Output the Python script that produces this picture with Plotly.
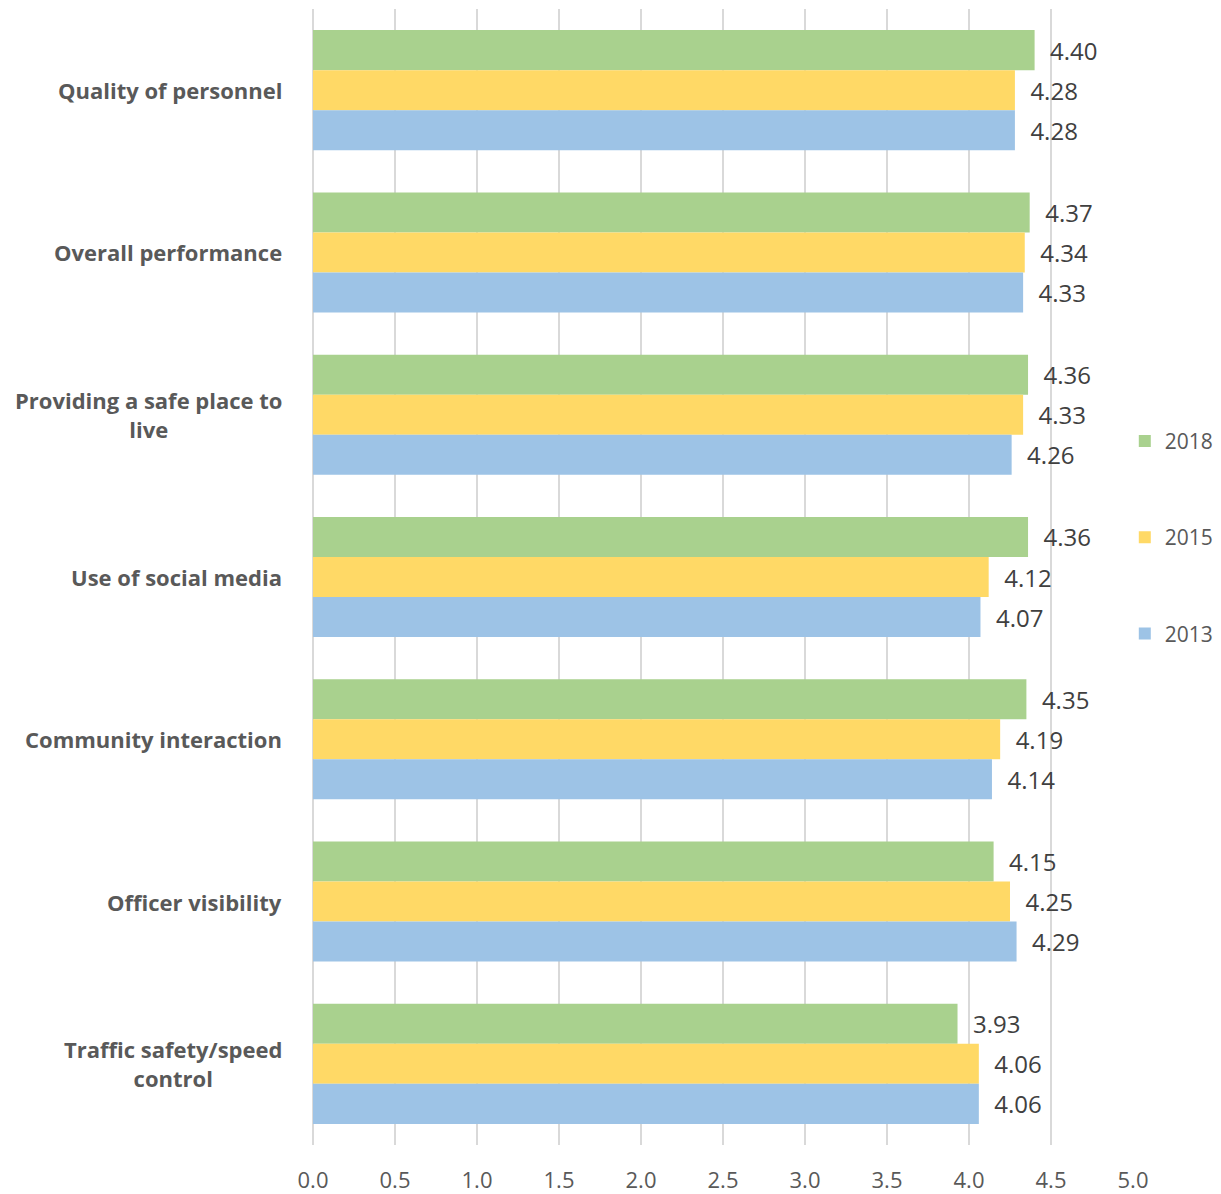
import plotly.graph_objects as go

categories = [
    "Quality of personnel",
    "Overall performance",
    "Providing a safe place to live",
    "Use of social media",
    "Community interaction",
    "Officer visibility",
    "Traffic safety/speed control",
]
category_labels = [
    "Quality of personnel",
    "Overall performance",
    "Providing a safe place to<br>live",
    "Use of social media",
    "Community interaction",
    "Officer visibility",
    "Traffic safety/speed<br>control",
]
series_names = ["2018", "2015", "2013"]
values_2018 = [4.40, 4.37, 4.36, 4.36, 4.35, 4.15, 3.93]
values_2015 = [4.28, 4.34, 4.33, 4.12, 4.19, 4.25, 4.06]
values_2013 = [4.28, 4.33, 4.26, 4.07, 4.14, 4.29, 4.06]
x_ticks = [0.0, 0.5, 1.0, 1.5, 2.0, 2.5, 3.0, 3.5, 4.0, 4.5, 5.0]

colors = ["#A9D18E", "#FFD966", "#9DC3E6"]
series_values = [values_2018, values_2015, values_2013]

FONT = "Open Sans"
fig = go.Figure()
for i, (name, vals, col) in enumerate(zip(series_names, series_values, colors)):
    fig.add_trace(go.Bar(
        y=categories, x=vals, name=name, orientation="h",
        marker=dict(color=col, line=dict(width=0)),
        text=["\u00a0\u00a0" + f"{v:.2f}" for v in vals],
        textposition="outside", cliponaxis=False,
        textfont=dict(family=FONT, size=24, color="#404040"),
        legendgroup=name,
    ))

for cat, lab in zip(categories, category_labels):
    fig.add_annotation(
        x=0, xref="paper", y=cat, yref="y", text=lab, showarrow=False,
        xanchor="right", xshift=-29, align="center",
        font=dict(family=FONT, size=22, color="#595959", weight="bold"),
    )

# The page body adds an 8px offset; size the figure to fit the 1221x1194 window.
fig.update_layout(
    width=1213, height=1186,
    margin=dict(l=305, r=88, t=1, b=49, autoexpand=False),
    barmode="group", bargap=0.26, bargroupgap=0,
    plot_bgcolor="white", paper_bgcolor="white",
    showlegend=True,
    legend=dict(
        x=0.990, xanchor="left", y=0.535, yanchor="middle",
        traceorder="grouped", tracegroupgap=66,
        font=dict(family=FONT, size=21, color="#595959"),
        itemwidth=30, bgcolor="rgba(0,0,0,0)",
    ),
    font=dict(family=FONT),
)
fig.update_xaxes(
    range=[0, 5], tickvals=x_ticks, ticktext=[f"{t:.1f}" for t in x_ticks],
    showgrid=True, gridcolor="#D9D9D9", gridwidth=1.5,
    zeroline=True, zerolinecolor="#D9D9D9", zerolinewidth=1.5,
    showline=False, ticks="", ticklabelstandoff=20,
    tickfont=dict(family=FONT, size=22, color="#595959"),
)
fig.update_yaxes(
    autorange="reversed", showticklabels=False, showgrid=False,
    showline=False, ticks="", categoryorder="array", categoryarray=categories,
)

fig.write_html("out.html")
